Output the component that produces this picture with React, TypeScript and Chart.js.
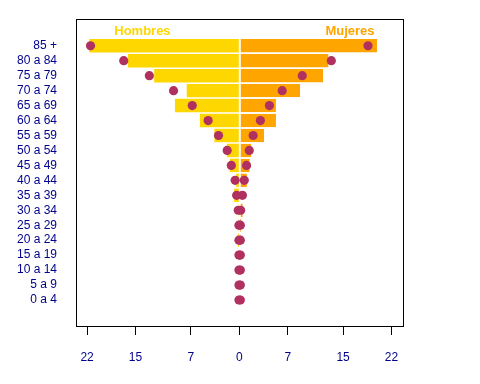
import React, { useEffect, useRef } from 'react';
import { Chart, registerables } from 'chart.js';

Chart.register(...registerables);

const ageGroups = ['85 +', '80 a 84', '75 a 79', '70 a 74', '65 a 69', '60 a 64', '55 a 59', '50 a 54', '45 a 49', '40 a 44', '35 a 39', '30 a 34', '25 a 29', '20 a 24', '15 a 19', '10 a 14', '5 a 9', '0 a 4'];
const menBars = [21.7, 16.1, 12.3, 7.6, 9.3, 5.7, 3.6, 1.8, 1.35, 0.45, 0.75, 0.1, 0.05, 0.2, 0, 0, 0, 0];
const womenBars = [19.9, 12.9, 12.1, 8.8, 5.3, 5.3, 3.6, 1.7, 1.5, 1.1, 0.1, 0.5, 0.25, 0, 0, 0, 0, 0];
const menDots = [21.5, 16.7, 13.0, 9.5, 6.8, 4.5, 3.0, 1.75, 1.15, 0.6, 0.38, 0.15, 0.05, 0.05, 0.05, 0.05, 0.05, 0.05];
const womenDots = [18.6, 13.3, 9.1, 6.2, 4.35, 3.05, 2.0, 1.44, 1.05, 0.72, 0.45, 0.2, 0.15, 0.15, 0.15, 0.15, 0.15, 0.15];
const tickValues = [-22, -15, -7, 0, 7, 15, 22];
const sexLabels = ['Hombres', 'Mujeres'];
const sexLabelX = [-14, 16];
const sexLabelRow = -0.95;

const YELLOW = '#FFD700';
const ORANGE = '#FFA500';
const DOT = '#B03060';
const TEXT = '#00008B';
const FONT = 'Arial, "Liberation Sans", sans-serif';

export default function App() {
  const ref = useRef<HTMLCanvasElement | null>(null);

  useEffect(() => {
    if (!ref.current) return;

    const framePlugin = {
      id: 'frame',
      afterDraw(chart: any) {
        const { ctx, chartArea } = chart;
        ctx.save();
        ctx.strokeStyle = '#000';
        ctx.lineWidth = 1;
        ctx.strokeRect(
          Math.round(chartArea.left) + 0.5,
          Math.round(chartArea.top) + 0.5,
          Math.round(chartArea.right - chartArea.left),
          Math.round(chartArea.bottom - chartArea.top)
        );
        ctx.restore();
      },
    };

    const sexLabelPlugin = {
      id: 'sexLabels',
      afterDatasetsDraw(chart: any) {
        const { ctx, scales } = chart;
        ctx.save();
        ctx.font = `bold 13px ${FONT}`;
        ctx.textAlign = 'center';
        ctx.textBaseline = 'middle';
        const colors = [YELLOW, ORANGE];
        sexLabels.forEach((t, i) => {
          ctx.fillStyle = colors[i];
          ctx.fillText(t, scales.x.getPixelForValue(sexLabelX[i]), scales.y.getPixelForValue(sexLabelRow));
        });
        ctx.restore();
      },
    };

    const chart = new Chart(ref.current, {
      type: 'bar',
      data: {
        datasets: [
          {
            type: 'scatter',
            data: menDots.map((v, i) => ({ x: -v, y: i })),
            pointRadius: 4.6,
            pointBackgroundColor: DOT,
            pointBorderWidth: 0,
            showLine: false,
            order: 0,
          } as any,
          {
            type: 'scatter',
            data: womenDots.map((v, i) => ({ x: v, y: i })),
            pointRadius: 4.6,
            pointBackgroundColor: DOT,
            pointBorderWidth: 0,
            showLine: false,
            order: 0,
          } as any,
          {
            type: 'bar',
            indexAxis: 'y',
            data: menBars.map((v, i) => ({ x: -v, y: i })),
            backgroundColor: YELLOW,
            borderWidth: 0,
            grouped: false,
            barPercentage: 0.9,
            categoryPercentage: 1,
            order: 1,
          } as any,
          {
            type: 'bar',
            indexAxis: 'y',
            data: womenBars.map((v, i) => ({ x: v, y: i })),
            backgroundColor: ORANGE,
            borderColor: '#FFFFFF',
            borderWidth: { left: 1, right: 0, top: 0, bottom: 0 },
            borderSkipped: false,
            grouped: false,
            barPercentage: 0.9,
            categoryPercentage: 1,
            order: 1,
          } as any,
        ],
      },
      options: {
        animation: false,
        responsive: true,
        maintainAspectRatio: false,
        indexAxis: 'y',
        layout: { padding: { top: 19, right: 77, left: 0, bottom: 0 } },
        plugins: {
          legend: { display: false },
          tooltip: { enabled: false },
        },
        scales: {
          x: {
            type: 'linear',
            position: 'bottom',
            offset: false,
            min: -23.6,
            max: 23.66,
            afterBuildTicks: (scale: any) => {
              scale.ticks = tickValues.map((v) => ({ value: v }));
            },
            afterFit: (scale: any) => {
              scale.height = 58;
              scale.paddingLeft = 0;
              scale.paddingRight = 0;
            },
            ticks: {
              callback: (v: any) => String(Math.abs(Number(v))),
              color: TEXT,
              font: { family: FONT, size: 12 },
              padding: 15,
              maxRotation: 0,
              autoSkip: false,
            },
            grid: {
              offset: false,
              drawOnChartArea: false,
              drawTicks: true,
              tickLength: 9,
              color: '#000',
              lineWidth: 1,
            },
            border: { display: false },
          },
          y: {
            type: 'linear',
            offset: false,
            reverse: true,
            min: -1.79,
            max: 18.74,
            afterBuildTicks: (scale: any) => {
              scale.ticks = ageGroups.map((_, i) => ({ value: i }));
            },
            afterFit: (scale: any) => {
              scale.width = 76;
              scale.paddingTop = 0;
              scale.paddingBottom = 0;
            },
            ticks: {
              callback: (v: any) => ageGroups[Number(v)] ?? '',
              color: TEXT,
              font: { family: FONT, size: 12 },
              padding: 19,
              autoSkip: false,
            },
            grid: { display: false, drawTicks: false, offset: false },
            border: { display: false },
          },
        },
      },
      plugins: [framePlugin, sexLabelPlugin],
    });

    return () => chart.destroy();
  }, []);

  return (
    <div style={{ position: 'absolute', left: 0, top: 0, width: 480, height: 384, background: '#fff' }}>
      <canvas ref={ref} />
    </div>
  );
}
